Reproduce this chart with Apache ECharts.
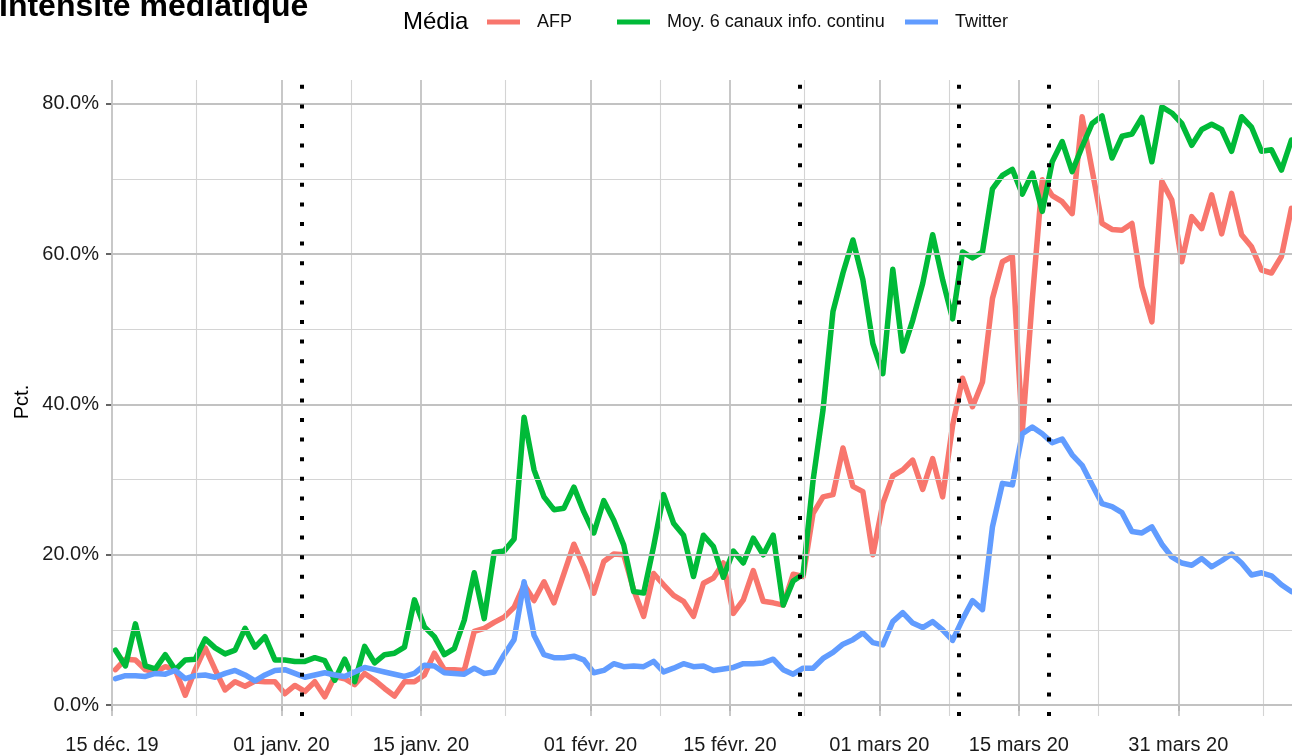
<!DOCTYPE html>
<html>
<head>
<meta charset="utf-8">
<title>Intensité médiatique</title>
<script src="https://cdn.jsdelivr.net/npm/echarts@6/dist/echarts.min.js"></script>
<style>
  html, body { margin: 0; padding: 0; background: #ffffff; }
  #chart { width: 1292px; height: 755px; }
</style>
</head>
<body>
<div id="chart"></div>
<script>
// daily values, from 15 déc. 2019 (index 0)
var afp = [4.7, 6.1, 6.0, 4.7, 4.4, 5.1, 4.7, 1.3, 4.7, 7.6,
  4.7, 2.0, 3.1, 2.5, 3.2, 3.1, 3.1, 1.5, 2.6, 1.8,
  3.1, 1.1, 3.8, 3.5, 2.7, 4.2, 3.3, 2.2, 1.2, 3.1,
  3.1, 4.0, 6.9, 4.7, 4.7, 4.6, 9.8, 10.2, 11.0, 11.7,
  13.0, 16.0, 13.9, 16.4, 13.6, 17.5, 21.4, 18.4, 14.9, 19.1,
  20.1, 20.0, 15.3, 11.8, 17.5, 16.0, 14.6, 13.8, 11.8, 16.2,
  16.9, 18.9, 12.2, 14.0, 17.9, 13.8, 13.6, 13.3, 17.4, 17.1,
  25.5, 27.7, 28.0, 34.2, 29.1, 28.4, 20.0, 26.8, 30.5, 31.3,
  32.6, 28.7, 32.8, 27.7, 37.2, 43.5, 39.7, 43.0, 54.1, 59.0,
  59.7, 36.5, 54.0, 69.9, 67.8, 67.0, 65.4, 78.3, 71.2, 64.1,
  63.3, 63.2, 64.1, 55.7, 51.0, 69.7, 67.2, 59.0, 65.0, 63.4,
  67.9, 62.7, 68.1, 62.6, 61.0, 57.9, 57.5, 59.7, 66.1];

var moy = [7.3, 5.2, 10.8, 5.2, 4.8, 6.7, 4.7, 6.0, 6.1, 8.8,
  7.6, 6.8, 7.3, 10.2, 7.7, 9.1, 6.0, 6.0, 5.8, 5.8,
  6.3, 5.9, 3.3, 6.1, 3.1, 7.8, 5.6, 6.7, 6.9, 7.7,
  14.0, 10.4, 9.1, 6.7, 7.5, 11.3, 17.6, 11.5, 20.3, 20.5,
  22.1, 38.3, 31.3, 27.7, 26.0, 26.2, 29.0, 25.7, 22.9, 27.2,
  24.6, 21.3, 15.1, 14.9, 21.1, 28.0, 24.2, 22.6, 17.1, 22.6,
  21.1, 17.0, 20.5, 18.9, 22.2, 20.0, 22.6, 13.3, 16.5, 17.4,
  29.9, 39.3, 52.4, 57.5, 61.9, 56.6, 48.1, 44.1, 58.0, 47.1,
  51.2, 56.1, 62.6, 56.6, 51.4, 60.3, 59.5, 60.3, 68.7, 70.5,
  71.3, 68.0, 70.8, 65.7, 72.3, 75.0, 71.0, 74.3, 77.4, 78.4,
  72.8, 75.7, 76.0, 78.2, 72.3, 79.6, 78.8, 77.4, 74.5, 76.6,
  77.3, 76.6, 73.7, 78.3, 76.9, 73.7, 73.9, 71.2, 75.2];

var twitter = [3.5, 3.9, 3.9, 3.8, 4.2, 4.1, 4.6, 3.5, 3.9, 4.0,
  3.7, 4.2, 4.6, 4.0, 3.2, 4.0, 4.6, 4.7, 4.2, 3.7,
  4.0, 4.3, 4.0, 3.8, 4.4, 5.0, 4.7, 4.4, 4.1, 3.8,
  4.2, 5.3, 5.2, 4.3, 4.2, 4.1, 4.9, 4.2, 4.4, 6.7,
  8.7, 16.4, 9.3, 6.7, 6.3, 6.3, 6.5, 6.0, 4.3, 4.6,
  5.5, 5.1, 5.2, 5.1, 5.8, 4.4, 4.9, 5.5, 5.1, 5.2,
  4.6, 4.8, 5.0, 5.5, 5.5, 5.6, 6.1, 4.7, 4.1, 4.9,
  4.9, 6.2, 7.0, 8.1, 8.7, 9.6, 8.3, 8.0, 11.1, 12.3,
  10.9, 10.3, 11.1, 10.0, 8.6, 11.4, 13.9, 12.7, 23.7, 29.5,
  29.3, 36.1, 37.0, 36.1, 34.9, 35.4, 33.3, 31.9, 29.3, 26.8,
  26.4, 25.6, 23.1, 22.9, 23.7, 21.4, 19.7, 18.9, 18.6, 19.5,
  18.4, 19.2, 20.1, 18.9, 17.3, 17.6, 17.2, 16.0, 15.1];

// x axis in days since 15 déc. 2019
var tickDays = [0, 17, 31, 48, 62, 77, 91, 107];
var tickLabels = ['15 déc. 19', '01 janv. 20', '15 janv. 20', '01 févr. 20',
  '15 févr. 20', '01 mars 20', '15 mars 20', '31 mars 20'];
var minorDays = [8.5, 24, 39.5, 55, 69.5, 84, 99, 115.5];
var eventDays = [19, 69, 85, 94];   // lignes pointillées
var yMajor = [0, 20, 40, 60, 80];
var yMinor = [10, 30, 50, 70];
var timeOfDay = 0.35;               // les points tombent en cours de journée

var seriesNames = ['AFP', 'Moy. 6 canaux info. continu', 'Twitter'];
var colors = ['#F8766D', '#00BA38', '#619CFF'];
var legendLeft = [487, 617, 905];
var font = '"Liberation Sans", Arial, Helvetica, sans-serif';

function pairs(arr) {
  return arr.map(function (v, i) { return [i + timeOfDay, v]; });
}
function vLines(list) {
  return list.map(function (d) { return { xAxis: d }; });
}
function hLines(list) {
  return list.map(function (v) { return { yAxis: v }; });
}
function gridSeries(lines, color, width) {
  return {
    type: 'line', data: [], z: 1, silent: true,
    markLine: {
      silent: true, symbol: ['none', 'none'], label: { show: false },
      lineStyle: { type: 'solid', color: color, width: width },
      emphasis: { disabled: true },
      data: lines
    }
  };
}

var chart = echarts.init(document.getElementById('chart'));

var series = [
  gridSeries(vLines(minorDays).concat(hLines(yMinor)), '#d4d4d4', 1.1),
  gridSeries(vLines(tickDays).concat(hLines(yMajor)), '#c2c2c2', 1.8)
];
[afp, moy, twitter].forEach(function (arr, k) {
  series.push({
    name: seriesNames[k], type: 'line', data: pairs(arr), z: 3,
    symbol: 'none', showSymbol: false,
    itemStyle: { color: colors[k] },
    lineStyle: { width: 5.5, color: colors[k], cap: 'round', join: 'round' }
  });
});
series.push({
  type: 'line', data: [], z: 5, silent: true,
  markLine: {
    silent: true, symbol: ['none', 'none'], label: { show: false },
    lineStyle: { type: [4, 15.6], color: '#000', width: 4, cap: 'butt' },
    emphasis: { disabled: true },
    data: vLines(eventDays)
  }
});

var legends = seriesNames.map(function (name, k) {
  return {
    data: [name],
    left: legendLeft[k], top: 13, padding: 0,
    icon: 'rect', itemWidth: 33, itemHeight: 5,
    textStyle: { fontSize: 18, color: '#111', fontFamily: font, padding: [0, 0, 0, 12] }
  };
});

chart.setOption({
  animation: false,
  grid: { left: 112, right: 0, top: 80, bottom: 39 },
  legend: legends,
  xAxis: {
    type: 'value', min: 0, max: 118.41,
    axisLine: { show: false },
    splitLine: { show: false },
    axisTick: { show: true, customValues: tickDays, length: 6, lineStyle: { color: '#333', width: 1.5 } },
    axisLabel: {
      customValues: tickDays, showMinLabel: true, showMaxLabel: true,
      formatter: function (v) { var i = tickDays.indexOf(v); return i >= 0 ? tickLabels[i] : ''; },
      margin: 19, fontSize: 20, color: '#1a1a1a', fontFamily: font
    }
  },
  yAxis: {
    type: 'value', min: -1.464, max: 83.19,
    axisLine: { show: false },
    splitLine: { show: false },
    axisTick: { show: true, customValues: yMajor, length: 6, lineStyle: { color: '#333', width: 1.5 } },
    axisLabel: {
      customValues: yMajor,
      formatter: function (v) { return v.toFixed(1) + '%'; },
      margin: 13, fontSize: 20, color: '#1a1a1a', fontFamily: font
    }
  },
  graphic: [
    { type: 'text', left: -1, top: -9, style: { text: 'Intensité médiatique', font: 'bold 32px ' + font, fill: '#000' } },
    { type: 'text', x: 403, y: 22, style: { text: 'Média', font: '24px ' + font, fill: '#000', verticalAlign: 'middle' } },
    { type: 'text', x: 22, y: 402, rotation: Math.PI / 2, style: { text: 'Pct.', font: '20px ' + font, fill: '#000', align: 'center', verticalAlign: 'middle' } }
  ],
  series: series
});
</script>
</body>
</html>
